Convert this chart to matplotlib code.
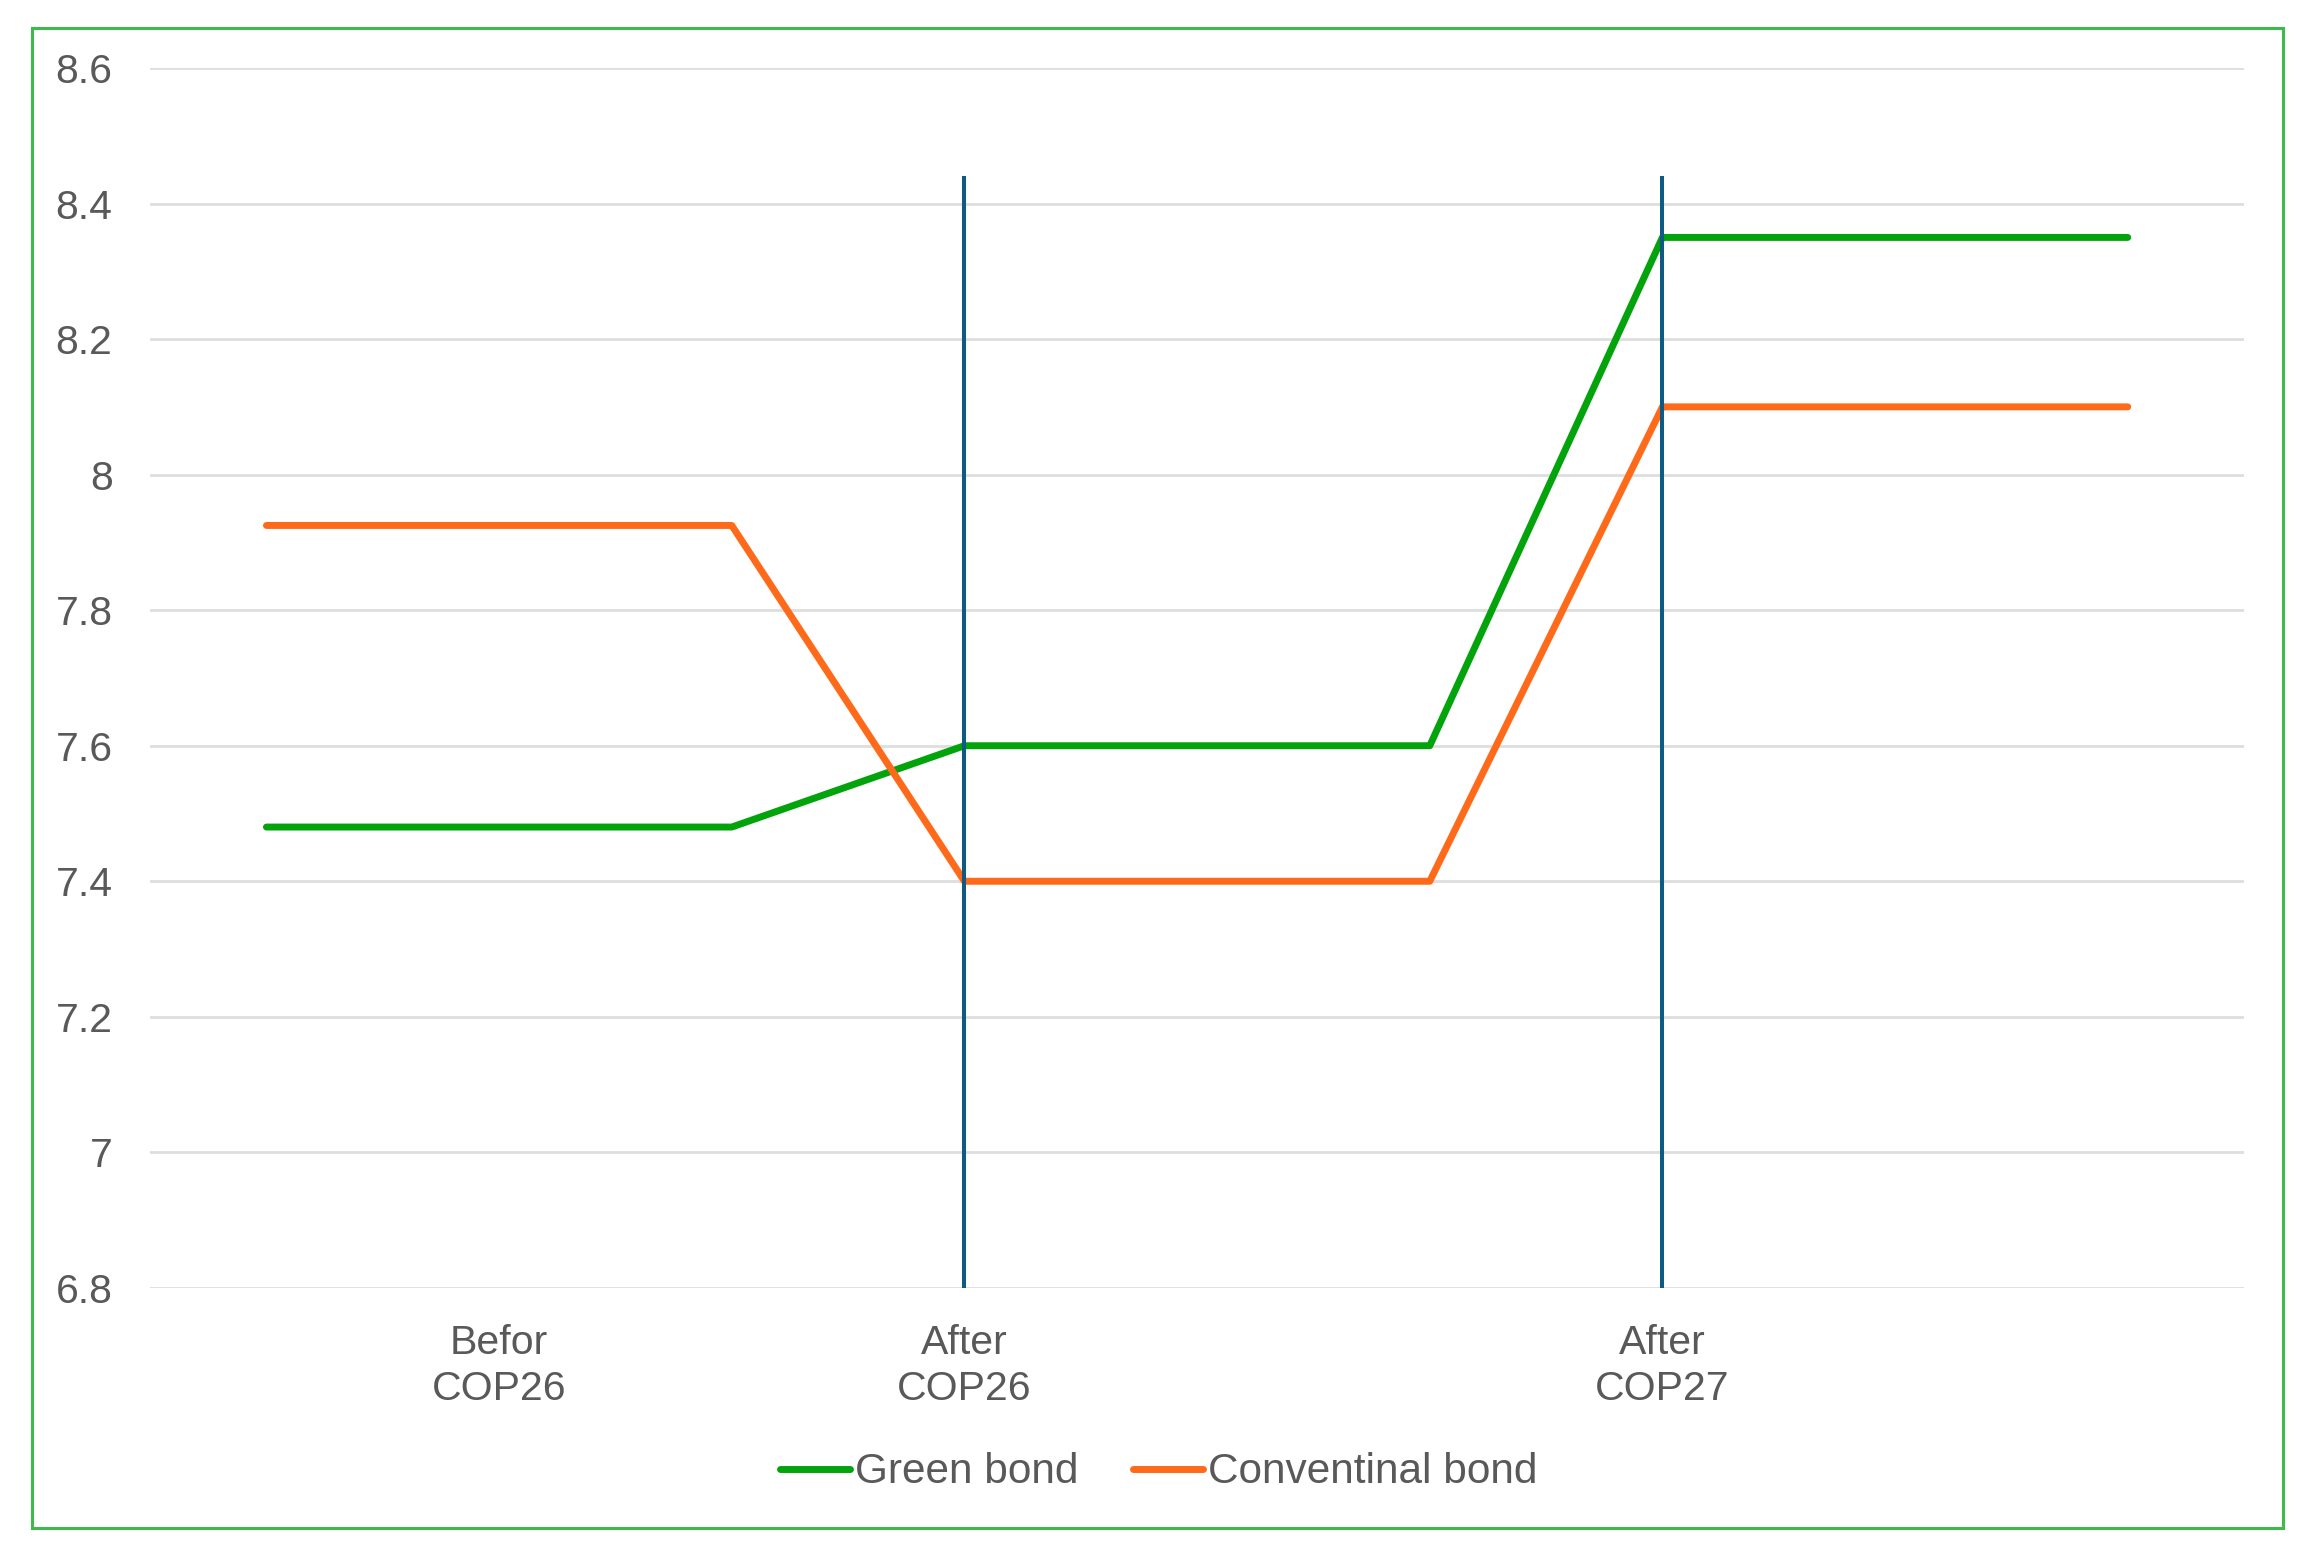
import matplotlib
matplotlib.use("Agg")
import matplotlib.pyplot as plt
from matplotlib.patches import Rectangle

# Data
categories = ["", "Befor\nCOP26", "", "After\nCOP26", "", "", "After\nCOP27", "", ""]
green_bond = [7.48, 7.48, 7.48, 7.60, 7.60, 7.60, 8.35, 8.35, 8.35]
conventional_bond = [7.925, 7.925, 7.925, 7.40, 7.40, 7.40, 8.10, 8.10, 8.10]
event_positions = [3, 6]
event_top = 8.44
y_ticks = [6.8, 7.0, 7.2, 7.4, 7.6, 7.8, 8.0, 8.2, 8.4, 8.6]
y_tick_labels = ["6.8", "7", "7.2", "7.4", "7.6", "7.8", "8", "8.2", "8.4", "8.6"]

plt.rcParams['font.family'] = ['Liberation Sans', 'DejaVu Sans']
text_color = "#595959"
fs = 29.5

fig = plt.figure(figsize=(23.13, 15.63), dpi=100)
ax = fig.add_axes([0.0649, 0.176, 0.9053, 0.7805])

x = list(range(len(categories)))
ax.plot(x, green_bond, color="#02A30B", lw=5.0, solid_capstyle="round",
        solid_joinstyle="round", label="Green bond", zorder=3)
ax.plot(x, conventional_bond, color="#FF6A1A", lw=5.0, solid_capstyle="round",
        solid_joinstyle="round", label="Conventinal bond", zorder=3)
ax.vlines(event_positions, y_ticks[0], event_top, color="#0F5A82", lw=2.9, zorder=4)

ax.set_xlim(-0.5, len(categories) - 0.5)
ax.set_ylim(y_ticks[0], y_ticks[-1])
ax.set_yticks(y_ticks)
ax.set_yticklabels(y_tick_labels)
ax.set_xticks(x)
ax.set_xticklabels(categories)

ax.grid(axis="y", color="#DEDEDE", lw=2.0, zorder=0)
ax.set_axisbelow(True)
for s in ax.spines.values():
    s.set_visible(False)
ax.tick_params(axis="both", length=0, labelsize=fs, labelcolor=text_color)
ax.tick_params(axis="y", pad=27)
ax.tick_params(axis="x", pad=26)
for lbl in ax.get_xticklabels():
    lbl.set_linespacing(1.28)

leg = fig.legend(loc="center", bbox_to_anchor=(0.501, 0.058), ncol=2, frameon=False,
                 fontsize=30.5, handlelength=1.65, handletextpad=0.12, columnspacing=1.3)
for line in leg.get_lines():
    line.set_linewidth(5.0)
for t in leg.get_texts():
    t.set_color(text_color)

border = Rectangle((0.0138, 0.0224), 0.9732, 0.9596, transform=fig.transFigure,
                   fill=False, edgecolor="#3DBA4A", lw=2.2)
fig.patches.append(border)

fig.savefig("out.png", dpi=100, facecolor="white")
